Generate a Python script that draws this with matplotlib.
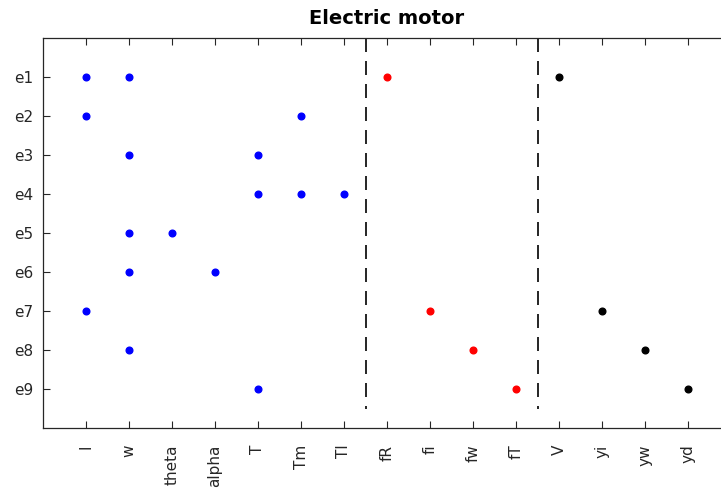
import matplotlib
matplotlib.use("Agg")
import matplotlib.pyplot as plt

variables = ["I", "w", "theta", "alpha", "T", "Tm", "Tl", "fR", "fi", "fw", "fT", "V", "yi", "yw", "yd"]
equations = ["e1", "e2", "e3", "e4", "e5", "e6", "e7", "e8", "e9"]

# (equation, variable) incidences
blue_eq = ["e1", "e1", "e2", "e2", "e3", "e3", "e4", "e4", "e4", "e5", "e5", "e6", "e6", "e7", "e8", "e9"]
blue_var = ["I", "w", "I", "Tm", "w", "T", "T", "Tm", "Tl", "w", "theta", "w", "alpha", "I", "w", "T"]
red_eq = ["e1", "e7", "e8", "e9"]
red_var = ["fR", "fi", "fw", "fT"]
black_eq = ["e1", "e7", "e8", "e9"]
black_var = ["V", "yi", "yw", "yd"]
separators = [7.5, 11.5]

plt.rcParams['font.family'] = ['DejaVu Sans']

fig = plt.figure(figsize=(7.21, 4.93), dpi=100)
W, H = 721, 493
ax = fig.add_axes([43 / W, 1 - 428 / H, 688 / W, 390 / H])

vi = {v: i + 1 for i, v in enumerate(variables)}
ei = {e: i + 1 for i, e in enumerate(equations)}

for eqs, vs, c in [(blue_eq, blue_var, "#0000ff"), (red_eq, red_var, "#ff0000"), (black_eq, black_var, "#000000")]:
    ax.plot([vi[v] for v in vs], [ei[e] for e in eqs], "o", color=c, markersize=4.8, linestyle="none")

for s in separators:
    ax.plot([s, s], [0, 9.5], color="black", linestyle=(0, (8.4, 5.4)), linewidth=1.2)

ax.set_xlim(0, 16)
ax.set_ylim(10, 0)
ax.set_xticks(range(1, len(variables) + 1))
ax.set_xticklabels(variables, rotation=90, fontsize=11, color="#262626")
ax.set_yticks(range(1, len(equations) + 1))
ax.set_yticklabels(equations, fontsize=11, color="#262626")
ax.tick_params(direction="in", length=5, width=0.8, color="#262626", top=True, right=True)
ax.tick_params(axis="y", pad=7)
ax.tick_params(axis="x", pad=12)
for sp in ax.spines.values():
    sp.set_color("#262626")
    sp.set_linewidth(0.9)

fig.text((43 + 8 * 43) / W, 1 - 24.5 / H, "Electric motor", ha="center", va="baseline",
         fontsize=14, fontweight="bold")

fig.savefig("out.png", dpi=100)
